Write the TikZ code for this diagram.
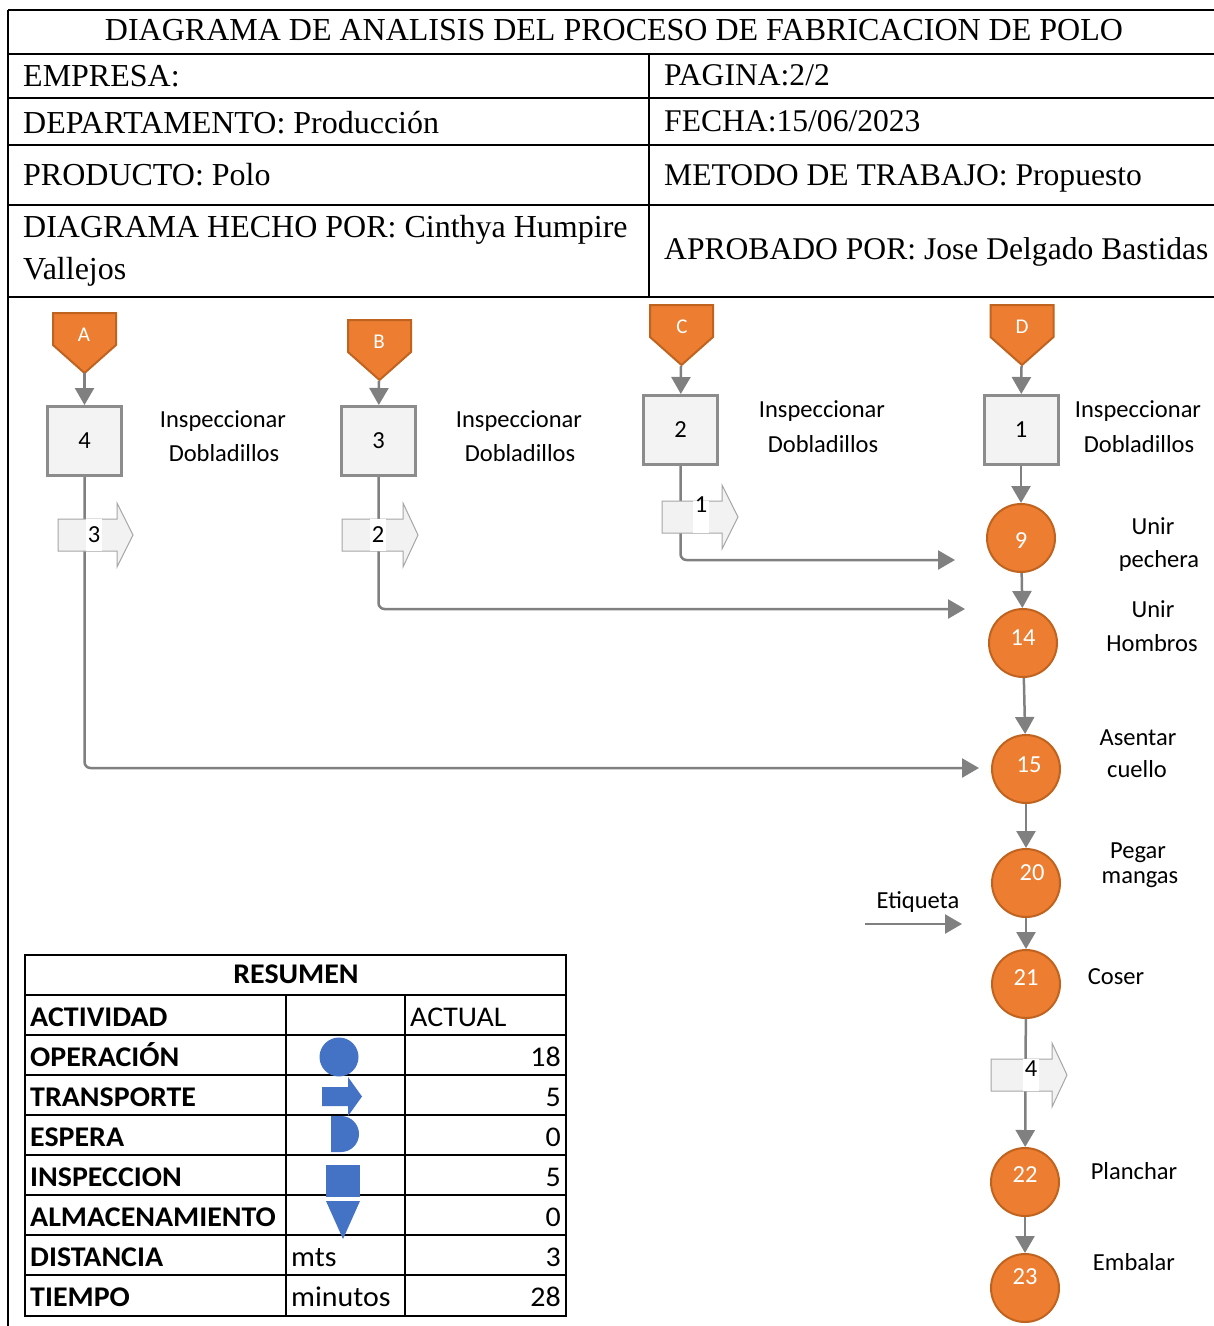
\documentclass[tikz,border=0pt]{standalone}
\usepackage{fontspec}
\setmainfont{Liberation Serif}
\newfontfamily\calib{Carlito}
\newfontfamily\calibw[FakeStretch=1.05]{Carlito}
\usetikzlibrary{arrows.meta}

\definecolor{orng}{HTML}{ED7D31}
\definecolor{orngdk}{HTML}{C0631F}
\definecolor{flowgray}{HTML}{808080}
\definecolor{boxgray}{HTML}{8C8C8C}
\definecolor{boxfill}{HTML}{F3F3F3}
\definecolor{arrfill}{HTML}{F2F2F2}
\definecolor{arredge}{HTML}{A6A6A6}
\definecolor{symblue}{HTML}{4472C4}

% transport arrow outline: left x, body end x, tip x, centre y
\newcommand\tarrow[4]{%
  \draw[tshape] (#1,#4-16) -- (#2,#4-16) -- (#2,#4-32) -- (#3,#4)
    -- (#2,#4+32) -- (#2,#4+16) -- (#1,#4+16) -- cycle;}
% off-page connector: centre x, top y
\newcommand\offpg[2]{%
  \draw[pent] (#1-31.5,#2) -- (#1+31.5,#2) -- (#1+31.5,#2+32) -- (#1,#2+60)
    -- (#1-31.5,#2+32) -- cycle;}

\begin{document}
\begin{tikzpicture}[x=1pt,y=-1pt,
  hdr/.style={font=\fontsize{32}{36}\selectfont, anchor=base west, inner sep=0},
  hdrr/.style={font=\fontsize{31.6}{36}\selectfont, anchor=base west, inner sep=0},
  rule/.style={line width=2pt, black},
  flow/.style={draw=flowgray, line width=2.5pt, -{Triangle[length=17pt,width=19pt]}},
  insp/.style={draw=boxgray, fill=boxfill, line width=3pt, minimum width=74pt,
    minimum height=69pt, inner sep=0, font=\calib\fontsize{24.5}{29}\selectfont},
  oper/.style={circle, draw=orngdk, fill=orng, line width=2pt, minimum size=68pt,
    inner sep=0, text=white, font=\calib\fontsize{24.5}{29}\selectfont},
  pent/.style={draw=orngdk, fill=orng, line width=2pt},
  plbl/.style={text=white, inner sep=0, font=\calib\fontsize{21}{24}\selectfont},
  tshape/.style={draw=arredge, fill=arrfill, line width=1pt},
  tlbl/.style={fill=white, inner xsep=1.5pt, inner ysep=0, minimum width=14pt,
    font=\calib\fontsize{24.5}{29}\selectfont},
  lbl/.style={font=\calib\fontsize{24.5}{29}\selectfont, anchor=base, inner sep=0},
  tb/.style={font=\calibw\bfseries\fontsize{28.5}{32}\selectfont, anchor=base west, inner sep=0},
  tr/.style={font=\calibw\fontsize{28.5}{32}\selectfont, anchor=base west, inner sep=0},
  tn/.style={tr, anchor=base east}]

\useasboundingbox (0,0) rectangle (1214,1326);
\fill[white] (0,0) rectangle (1214,1326);

% ---------- header block ----------
\draw[rule] (8,10) -- (1214,10);
\draw[rule] (8,10) -- (8,1326);
\foreach \yy in {54,98,145,205,297} \draw[rule] (8,\yy) -- (1214,\yy);
\draw[rule] (649,54) -- (649,297);

\node[hdr, anchor=base] (title) at (614,40) {DIAGRAMA DE ANALISIS DEL PROCESO DE FABRICACION DE POLO};
\node[hdr] (emp)  at (23,86)  {EMPRESA:};
\node[hdr] (dep)  at (23,133) {DEPARTAMENTO: Producción};
\node[hdr] (prod) at (23,185) {PRODUCTO: Polo};
\node[hdr] (hec1) at (23,237) {DIAGRAMA HECHO POR: Cinthya Humpire};
\node[hdr] (hec2) at (23,279) {Vallejos};
\node[hdrr] (pag)  at (664,85)  {PAGINA:2/2};
\node[hdrr] (fec)  at (664,131) {FECHA:15/06/2023};
\node[hdrr] (met)  at (664,185) {METODO DE TRABAJO: Propuesto};
\node[hdrr] (apr)  at (664,259) {APROBADO POR: Jose Delgado Bastidas};

% ---------- off-page connectors ----------
\offpg{84.5}{313}  \node[plbl] (lA) at (84,335) {A};
\offpg{379.5}{320} \node[plbl] (lB) at (379,342) {B};
\offpg{681.5}{305} \node[plbl] (lC) at (682,327) {C};
\offpg{1022}{305}  \node[plbl] (lD) at (1022,327) {D};
\coordinate (pA) at (84.5,373);
\coordinate (pB) at (379,381);
\coordinate (pC) at (681,366);
\coordinate (pD) at (1021.5,366);

% ---------- inspections ----------
\node[insp] (bA) at (84.5,441)  {4};
\node[insp] (bB) at (378.5,441) {3};
\node[insp] (bC) at (680.5,430) {2};
\node[insp] (bD) at (1021,430)  {1};

\node[lbl] (iA1) at (223,427)  {Inspeccionar};
\node[lbl] (iA2) at (224,461)  {Dobladillos};
\node[lbl] (iB1) at (519,427)  {Inspeccionar};
\node[lbl] (iB2) at (520,461)  {Dobladillos};
\node[lbl] (iC1) at (822,417)  {Inspeccionar};
\node[lbl] (iC2) at (823,452)  {Dobladillos};
\node[lbl] (iD1) at (1138,417) {Inspeccionar};
\node[lbl] (iD2) at (1139,452) {Dobladillos};

% ---------- operations ----------
\node[oper, text height=24.75pt, text depth=3.25pt]  (o9)  at (1021,538) {9};
\node[oper, text height=16.75pt, text depth=11.25pt] (o14) at (1023,643) {14};
\node[oper, text height=17.75pt, text depth=10.25pt] (o15) at (1026,769) {\hspace*{6pt}15};
\node[oper, text height=11.75pt, text depth=16.25pt] (o20) at (1026,883) {\hspace*{12pt}20};
\node[oper, text height=15.75pt, text depth=12.25pt] (o21) at (1026,984) {21};
\node[oper, text height=14.75pt, text depth=13.25pt] (o22) at (1025,1182) {22};
\node[oper, text height=10.75pt, text depth=17.25pt] (o23) at (1025,1288) {23};

\node[lbl] (u1) at (1153,534)  {Unir};
\node[lbl] (u2) at (1159,567)  {pechera};
\node[lbl] (h1) at (1153,617)  {Unir};
\node[lbl] (h2) at (1152,651)  {Hombros};
\node[lbl] (a1) at (1138,745)  {Asentar};
\node[lbl] (a2) at (1137,777)  {cuello};
\node[lbl] (g1) at (1138,858)  {Pegar};
\node[lbl] (g2) at (1140,883)  {mangas};
\node[lbl] (cs) at (1116,984)  {Coser};
\node[lbl] (pl) at (1134,1179) {Planchar};
\node[lbl] (em) at (1134,1270) {Embalar};
\node[lbl] (et) at (918,908)   {Etiqueta};

% ---------- connectors ----------
\draw[flow] (pA) -- (bA);
\draw[flow] (pB) -- (bB);
\draw[flow] (pC) -- (bC);
\draw[flow] (pD) -- (bD);

\coordinate (eA) at (979,768);
\coordinate (eB) at (965,609);
\coordinate (eC) at (955,560);
\draw[flow, rounded corners=6pt] (bA.south) |- (eA);
\draw[flow, rounded corners=6pt] (bB.south) |- (eB);
\draw[flow, rounded corners=6pt] (bC.south) |- (eC);

\draw[flow] (bD) -- (o9);
\draw[flow] (o9) -- (o14);
\draw[flow] (o14) -- (o15);
\draw[flow] (o15) -- (o20);
\draw[flow] (o20) -- (o21);
\draw[flow] (o21) -- (o22);
\draw[flow] (o22) -- (o23);

\coordinate (etS) at (865,924);
\coordinate (etE) at (962,924);
\draw[flow] (etS) -- (etE);

% ---------- transports ----------
\tarrow{58}{117}{133}{535}
\node[tlbl, text height=23.75pt, text depth=8.25pt] (t3) at (94,535) {3};
\tarrow{342}{403}{418}{535}
\node[tlbl, text height=23.75pt, text depth=8.25pt] (t2) at (378,535) {2};
\tarrow{662}{722}{738}{517}
\node[tlbl, text height=11.75pt, text depth=20.25pt] (t1) at (701,517) {1};
\tarrow{991}{1052}{1067}{1075}
\node[tlbl, text height=17.75pt, text depth=14.25pt] (t4) at (1031,1075) {4};

% ---------- summary table ----------
\begin{scope}[line width=1.5pt]
\draw (25,955) rectangle (566,1316);
\foreach \yy in {995,1035,1075,1115,1155,1195,1235,1275} \draw (25,\yy) -- (566,\yy);
\draw (286,995) -- (286,1316);
\draw (405,995) -- (405,1316);
\end{scope}

\node[tb, anchor=base] (res) at (296,983) {RESUMEN};
\node[tb] (r1) at (30,1026) {ACTIVIDAD};
\node[tb] (r2) at (30,1066) {OPERACIÓN};
\node[tb] (r3) at (30,1106) {TRANSPORTE};
\node[tb] (r4) at (30,1146) {ESPERA};
\node[tb] (r5) at (30,1186) {INSPECCION};
\node[tb] (r6) at (30,1226) {ALMACENAMIENTO};
\node[tb] (r7) at (30,1266) {DISTANCIA};
\node[tb] (r8) at (30,1306) {TIEMPO};
\node[tr] (act) at (410,1026) {ACTUAL};
\node[tr] (u7) at (291,1266) {mts};
\node[tr] (u8) at (291,1306) {minutos};
\node[tn] (n2) at (561,1066) {18};
\node[tn] (n3) at (561,1106) {5};
\node[tn] (n4) at (561,1146) {0};
\node[tn] (n5) at (561,1186) {5};
\node[tn] (n6) at (561,1226) {0};
\node[tn] (n7) at (561,1266) {3};
\node[tn] (n8) at (561,1306) {28};

% activity symbols
\fill[symblue] (339,1057) circle[radius=19.5];
\fill[symblue] (322,1087) -- (348,1087) -- (348,1077) -- (362,1096.5) -- (348,1116)
  -- (348,1106) -- (322,1106) -- cycle;
\fill[symblue] (331,1116) -- (341,1116) arc[start angle=-90, end angle=90, radius=18]
  -- (331,1152) -- cycle;
\fill[symblue] (326,1165) rectangle (360,1197);
\fill[symblue] (326,1201) -- (360,1201) -- (343,1239) -- cycle;

\end{tikzpicture}
\end{document}
